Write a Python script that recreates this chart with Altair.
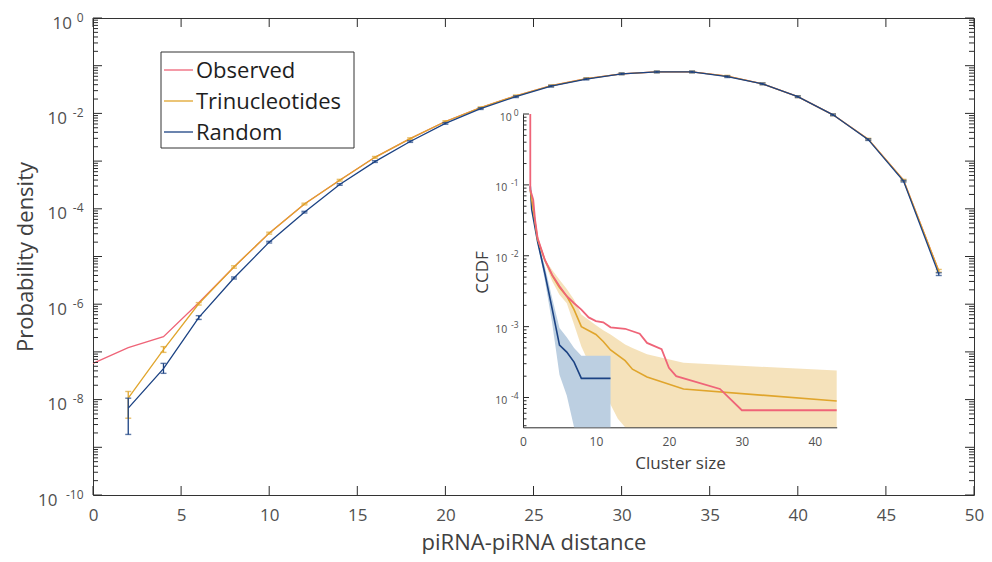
import altair as alt
import pandas as pd

# ---------------- main panel data ----------------
distance = [0, 2, 4, 6, 8, 10, 12, 14, 16, 18, 20, 22, 24, 26, 28, 30, 32, 34, 36, 38, 40, 42, 44, 46, 48]
observed_density = [5.75e-8, 1.23e-7, 2.09e-7, 1.07e-6, 6.03e-6, 3.09e-5, 1.26e-4, 3.98e-4, 1.20e-3,
                    2.95e-3, 6.76e-3, 1.32e-2, 2.34e-2, 3.80e-2, 5.37e-2, 6.76e-2, 7.41e-2, 7.41e-2,
                    6.03e-2, 4.17e-2, 2.24e-2, 9.33e-3, 2.88e-3, 3.98e-4, 5.01e-6]
model_distance = [2, 4, 6, 8, 10, 12, 14, 16, 18, 20, 22, 24, 26, 28, 30, 32, 34, 36, 38, 40, 42, 44, 46, 48]
tri_density = [1.07e-8, 1.12e-7, 1.02e-6, 6.03e-6, 3.09e-5, 1.26e-4, 3.98e-4, 1.20e-3, 2.95e-3, 6.76e-3,
               1.32e-2, 2.34e-2, 3.80e-2, 5.37e-2, 6.76e-2, 7.41e-2, 7.41e-2, 6.03e-2, 4.17e-2, 2.24e-2,
               9.33e-3, 2.88e-3, 3.98e-4, 5.01e-6]
tri_lo = [4.07e-9, 9.77e-8, 0.96e-6, 5.70e-6, 2.95e-5, 1.21e-4, 3.82e-4, 1.15e-3, 2.84e-3, 6.50e-3,
          1.27e-2, 2.25e-2, 3.65e-2, 5.17e-2, 6.50e-2, 7.13e-2, 7.13e-2, 5.80e-2, 4.01e-2, 2.15e-2,
          8.97e-3, 2.77e-3, 3.82e-4, 4.70e-6]
tri_hi = [1.48e-8, 1.29e-7, 1.08e-6, 6.37e-6, 3.23e-5, 1.31e-4, 4.14e-4, 1.25e-3, 3.07e-3, 7.03e-3,
          1.37e-2, 2.43e-2, 3.95e-2, 5.58e-2, 7.03e-2, 7.70e-2, 7.70e-2, 6.27e-2, 4.34e-2, 2.33e-2,
          9.70e-3, 3.00e-3, 4.14e-4, 5.35e-6]
rand_density = [6.61e-9, 4.47e-8, 5.25e-7, 3.55e-6, 2.00e-5, 8.51e-5, 3.24e-4, 9.77e-4, 2.57e-3, 6.17e-3,
                1.26e-2, 2.24e-2, 3.72e-2, 5.25e-2, 6.76e-2, 7.41e-2, 7.41e-2, 5.89e-2, 4.17e-2, 2.24e-2,
                9.33e-3, 2.82e-3, 3.80e-4, 4.27e-6]
rand_lo = [1.86e-9, 3.55e-8, 4.79e-7, 3.38e-6, 1.92e-5, 8.18e-5, 3.11e-4, 9.38e-4, 2.47e-3, 5.93e-3,
           1.21e-2, 2.15e-2, 3.57e-2, 5.04e-2, 6.49e-2, 7.11e-2, 7.11e-2, 5.65e-2, 4.00e-2, 2.15e-2,
           8.96e-3, 2.71e-3, 3.65e-4, 4.00e-6]
rand_hi = [1.07e-8, 5.75e-8, 5.75e-7, 3.72e-6, 2.08e-5, 8.85e-5, 3.37e-4, 1.02e-3, 2.67e-3, 6.42e-3,
           1.31e-2, 2.33e-2, 3.87e-2, 5.46e-2, 7.03e-2, 7.71e-2, 7.71e-2, 6.13e-2, 4.34e-2, 2.33e-2,
           9.70e-3, 2.93e-3, 3.95e-4, 4.55e-6]

series_names = ["Observed", "Trinucleotides", "Random"]
series_colors = ["#ef6478", "#e0a52c", "#1b4283"]

x_tick_values = [0, 5, 10, 15, 20, 25, 30, 35, 40, 45, 50]
y_label_values = [1, 1e-2, 1e-4, 1e-6, 1e-8, 1e-10]
y_label_exps = ["0", "-2", "-4", "-6", "-8", "-10"]

# ---------------- inset data (CCDF of cluster size) ----------------
inset_obs_size = [1, 1, 1.4, 1.65, 2, 3, 4, 5, 6, 7, 8, 9, 10, 11, 12, 14, 16, 17, 19, 20, 21, 27, 30, 43]
inset_obs_ccdf = [1.0, 0.0851, 0.0617, 0.0324, 0.0178, 8.71e-3, 5.37e-3, 3.72e-3, 2.69e-3, 2.14e-3, 1.74e-3,
                  1.35e-3, 1.20e-3, 1.15e-3, 9.77e-4, 9.33e-4, 7.94e-4, 5.89e-4, 4.79e-4, 2.63e-4, 2.00e-4,
                  1.32e-4, 6.61e-5, 6.61e-5]
inset_tri_size = [1, 2, 3, 4, 5, 6, 7, 8, 10, 11, 12, 14, 15, 17, 22, 43]
inset_tri_ccdf = [0.0851, 0.0170, 8.71e-3, 5.25e-3, 3.55e-3, 2.69e-3, 1.74e-3, 1.00e-3, 7.76e-4, 6.17e-4,
                  4.68e-4, 3.31e-4, 2.51e-4, 1.95e-4, 1.32e-4, 8.91e-5]
inset_tri_band_size = [1, 2, 3, 4, 5, 6, 7, 8, 10, 11, 12, 13, 14, 15, 17, 22, 43]
inset_tri_band_hi = [0.0955, 0.0191, 8.91e-3, 6.31e-3, 4.57e-3, 3.39e-3, 2.40e-3, 1.48e-3, 1.05e-3, 8.91e-4,
                     7.76e-4, 6.61e-4, 5.62e-4, 5.01e-4, 4.07e-4, 3.09e-4, 2.40e-4]
inset_tri_band_lo = [0.0759, 0.0151, 7.94e-3, 4.37e-3, 2.82e-3, 2.14e-3, 1.07e-3, 5.25e-4, 1.86e-4, 1.41e-4,
                     7.94e-5, 5.01e-5, 0, 0, 0, 0, 0]
inset_rand_size = [1, 1.2, 2, 3, 4, 5, 6, 7, 8, 12]
inset_rand_ccdf = [0.0955, 0.0447, 0.0158, 5.62e-3, 1.78e-3, 5.50e-4, 4.37e-4, 3.16e-4, 1.86e-4, 1.86e-4]
inset_rand_band_size = [2, 3, 4, 5, 6, 7, 8, 12]
inset_rand_band_hi = [0.0166, 7.08e-3, 2.51e-3, 9.55e-4, 7.08e-4, 5.01e-4, 3.89e-4, 3.89e-4]
inset_rand_band_lo = [0.0151, 4.47e-3, 1.12e-3, 2.09e-4, 1.07e-4, 0, 0, 0]

inset_x_ticks = [0, 10, 20, 30, 40]
inset_y_label_values = [1, 1e-1, 1e-2, 1e-3, 1e-4]
inset_y_label_exps = ["0", "-1", "-2", "-3", "-4"]

# ---------------- style / layout ----------------
FONT = "Open Sans"
AX = "#2b2b2b"
LBL = "#505050"
TTL = "#404040"
PAD_L, PAD_T, PAD_R, PAD_B = 85, 10, 10, 59
W, H = 976 - PAD_L - PAD_R, 546 - PAD_T - PAD_B
PL = 8 + PAD_L          # page x of plot left edge
PT = 8 + PAD_T          # page y of plot top edge
INSET_X0, INSET_X1 = 523 - PL, 836.7 - PL
INSET_YB, INSET_YT = 427.3 - PT, 114 - PT
INSET_YMIN = 3.8e-5

X = alt.Scale(domain=[0, 50], nice=False, zero=False)
Y = alt.Scale(type="log", domain=[1e-10, 1], nice=False)
x_axis = alt.Axis(values=x_tick_values, ticks=False, tickSize=0, domain=False, grid=False,
                  labelFontSize=17, labelColor=LBL, labelPadding=12, labelFlush=False, format="d",
                  title="piRNA-piRNA distance", titleFontSize=22, titleFontWeight="normal",
                  titleColor=TTL, titleY=54, titleBaseline="alphabetic")
y_axis = alt.Axis(labels=False, ticks=False, tickSize=0, domain=False, grid=False,
                  title="Probability density", titleFontSize=22, titleFontWeight="normal",
                  titleColor=TTL, titleX=32 - PL, titleBaseline="alphabetic")

def xe(field):
    return alt.X(field, type="quantitative", scale=X, axis=x_axis)

def ye(field):
    return alt.Y(field, type="quantitative", scale=Y, axis=y_axis)

obs_df = pd.DataFrame({"x": distance, "y": observed_density})
tri_df = pd.DataFrame({"x": model_distance, "y": tri_density, "lo": tri_lo, "hi": tri_hi})
rnd_df = pd.DataFrame({"x": model_distance, "y": rand_density, "lo": rand_lo, "hi": rand_hi})

main_layers = []
main_layers.append(alt.Chart(obs_df).mark_line(color=series_colors[0], strokeWidth=1.3)
                   .encode(x=xe("x"), y=ye("y")))
for df, col in [(tri_df, series_colors[1]), (rnd_df, series_colors[2])]:
    main_layers.append(alt.Chart(df).mark_line(color=col, strokeWidth=1.3).encode(x=xe("x"), y=ye("y")))
    main_layers.append(alt.Chart(df).mark_rule(color=col, strokeWidth=1.3)
                       .encode(x=xe("x"), y=ye("lo"), y2="hi:Q"))
    for f in ["lo", "hi"]:
        main_layers.append(alt.Chart(df).mark_tick(color=col, orient="horizontal", size=6, thickness=1.4)
                           .encode(x=xe("x"), y=ye(f)))

# ticks (inward, MATLAB style)
ytick_rows = []
for k in range(-10, 1):
    ytick_rows.append({"v": 10.0 ** k, "major": True})
    if k < 0:
        for m in range(2, 10):
            ytick_rows.append({"v": m * 10.0 ** k, "major": False})
ytick_df = pd.DataFrame(ytick_rows)
for major, ln in [(True, 9), (False, 5)]:
    base = alt.Chart(ytick_df).transform_filter("datum.major" if major else "!datum.major")
    main_layers.append(base.mark_rule(color=AX, strokeWidth=1)
                       .encode(y=ye("v"), x=alt.value(0), x2=alt.value(ln)))
    main_layers.append(base.mark_rule(color=AX, strokeWidth=1)
                       .encode(y=ye("v"), x=alt.value(W - ln), x2=alt.value(W)))
xtick_df = pd.DataFrame({"v": x_tick_values})
main_layers.append(alt.Chart(xtick_df).mark_rule(color=AX, strokeWidth=1)
                   .encode(x=xe("v"), y=alt.value(H - 9), y2=alt.value(H)))
main_layers.append(alt.Chart(xtick_df).mark_rule(color=AX, strokeWidth=1)
                   .encode(x=xe("v"), y=alt.value(0), y2=alt.value(9)))

# y tick labels 10^k
ylab_df = pd.DataFrame({"v": y_label_values, "exp": y_label_exps})
main_layers.append(alt.Chart(ylab_df).mark_text(align="right", baseline="middle", fontSize=12, dy=-0.5,
                                                 color=LBL, font=FONT)
                   .encode(y=ye("v"), x=alt.value(-9.5), text="exp:N"))
for L, xr in [(1, -21), (2, -26), (3, -35.5)]:
    main_layers.append(alt.Chart(ylab_df).transform_filter(f"length(datum.exp) == {L}")
                       .mark_text(align="right", baseline="middle", fontSize=17, dy=5.5, color=LBL,
                                  font=FONT, text="10")
                       .encode(y=ye("v"), x=alt.value(xr)))

# legend box
one = pd.DataFrame({"a": [0]})
main_layers.append(alt.Chart(one).mark_rect(fill="white", stroke="#333333", strokeWidth=1)
                   .encode(x=alt.value(161 - PL), x2=alt.value(354 - PL), y=alt.value(52 - PT),
                           y2=alt.value(148 - PT)))
for i, (nm, col) in enumerate(zip(series_names, series_colors)):
    yy = 70 - PT + 31 * i
    main_layers.append(alt.Chart(one).mark_rule(color=col, strokeWidth=1.3)
                       .encode(x=alt.value(164 - PL), x2=alt.value(193 - PL), y=alt.value(yy)))
    main_layers.append(alt.Chart(one).mark_text(align="left", baseline="middle", fontSize=22,
                                                color="#1e1e1e", font=FONT, text=nm, dy=1)
                       .encode(x=alt.value(196 - PL), y=alt.value(yy)))

main = alt.layer(*main_layers)

# ---------------- inset ----------------
IX = alt.Scale(domain=[0, 43], range=[INSET_X0, INSET_X1], nice=False, zero=False)
IY = alt.Scale(type="log", domain=[INSET_YMIN, 1], range=[INSET_YB, INSET_YT], nice=False)
ix_axis = alt.Axis(values=inset_x_ticks, orient="bottom", offset=-(H - INSET_YB), ticks=False, tickSize=0,
                   domain=True, domainColor=AX, domainWidth=1, grid=False, labelFontSize=12,
                   labelColor=LBL, labelPadding=9, labelFlush=False, format="d",
                   title="Cluster size", titleFontSize=17, titleFontWeight="normal", titleColor=TTL,
                   titleX=680 - PL, titleY=468 - PT - INSET_YB, titleBaseline="alphabetic")
iy_axis = alt.Axis(orient="left", offset=-INSET_X0, labels=False, ticks=False, tickSize=0, domain=True,
                   domainColor=AX, domainWidth=1, grid=False, title="CCDF", titleFontSize=17,
                   titleFontWeight="normal", titleColor=TTL, titleX=-36, titleY=272 - PT,
                   titleBaseline="alphabetic")

def ixe(field):
    return alt.X(field, type="quantitative", scale=IX, axis=ix_axis)

def iye(field):
    return alt.Y(field, type="quantitative", scale=IY, axis=iy_axis)

floor_expr = f"max(datum.lo, {INSET_YMIN})"
tband_df = pd.DataFrame({"x": inset_tri_band_size, "lo": inset_tri_band_lo, "hi": inset_tri_band_hi})
rband_df = pd.DataFrame({"x": inset_rand_band_size, "lo": inset_rand_band_lo, "hi": inset_rand_band_hi})
iobs_df = pd.DataFrame({"x": inset_obs_size, "y": inset_obs_ccdf, "i": list(range(len(inset_obs_size)))})
itri_df = pd.DataFrame({"x": inset_tri_size, "y": inset_tri_ccdf, "i": list(range(len(inset_tri_size)))})
irnd_df = pd.DataFrame({"x": inset_rand_size, "y": inset_rand_ccdf, "i": list(range(len(inset_rand_size)))})

inset_layers = [
    alt.Chart(tband_df).transform_calculate(lof=floor_expr)
    .mark_area(color="#e0a52c", opacity=0.32)
    .encode(x=ixe("x"), y=iye("lof"), y2="hi:Q"),
    alt.Chart(rband_df).transform_calculate(lof=floor_expr)
    .mark_area(color="#bccfe1", opacity=1)
    .encode(x=ixe("x"), y=iye("lof"), y2="hi:Q"),
    alt.Chart(irnd_df).mark_line(color=series_colors[2], strokeWidth=1.6)
    .encode(x=ixe("x"), y=iye("y"), order="i:Q"),
    alt.Chart(itri_df).mark_line(color=series_colors[1], strokeWidth=1.6)
    .encode(x=ixe("x"), y=iye("y"), order="i:Q"),
    alt.Chart(iobs_df).mark_line(color=series_colors[0], strokeWidth=1.8)
    .encode(x=ixe("x"), y=iye("y"), order="i:Q"),
]

itick_rows = []
for k in range(-5, 1):
    if 10.0 ** k >= INSET_YMIN:
        itick_rows.append({"v": 10.0 ** k, "major": True})
    if k < 0:
        for m in range(2, 10):
            if m * 10.0 ** k >= INSET_YMIN:
                itick_rows.append({"v": m * 10.0 ** k, "major": False})
itick_df = pd.DataFrame(itick_rows)
for major, ln in [(True, 6), (False, 3.5)]:
    inset_layers.append(alt.Chart(itick_df).transform_filter("datum.major" if major else "!datum.major")
                        .mark_rule(color=AX, strokeWidth=1)
                        .encode(y=iye("v"), x=alt.value(INSET_X0), x2=alt.value(INSET_X0 + ln)))

iylab_df = pd.DataFrame({"v": inset_y_label_values, "exp": inset_y_label_exps})
inset_layers.append(alt.Chart(iylab_df).mark_text(align="right", baseline="middle", fontSize=8.5, dy=-1.5,
                                                   color=LBL, font=FONT)
                    .encode(y=iye("v"), x=alt.value(INSET_X0 - 4.5), text="exp:N"))
for L, xr in [(1, -11.3), (2, -15.7)]:
    inset_layers.append(alt.Chart(iylab_df).transform_filter(f"length(datum.exp) == {L}")
                        .mark_text(align="right", baseline="middle", fontSize=10.5, dy=3.5, color=LBL,
                                   font=FONT, text="10")
                        .encode(y=iye("v"), x=alt.value(INSET_X0 + xr)))

inset = alt.layer(*inset_layers)

chart = (
    alt.layer(main, inset)
    .resolve_scale(x="independent", y="independent")
    .properties(width=W, height=H, autosize=alt.AutoSizeParams(type="none"),
                padding={"left": PAD_L, "top": PAD_T, "right": PAD_R, "bottom": PAD_B})
    .configure(font=FONT)
    .configure_view(stroke="#333333", strokeWidth=1)
)

chart.save("out.html", embed_options={"renderer": "svg", "actions": False})
